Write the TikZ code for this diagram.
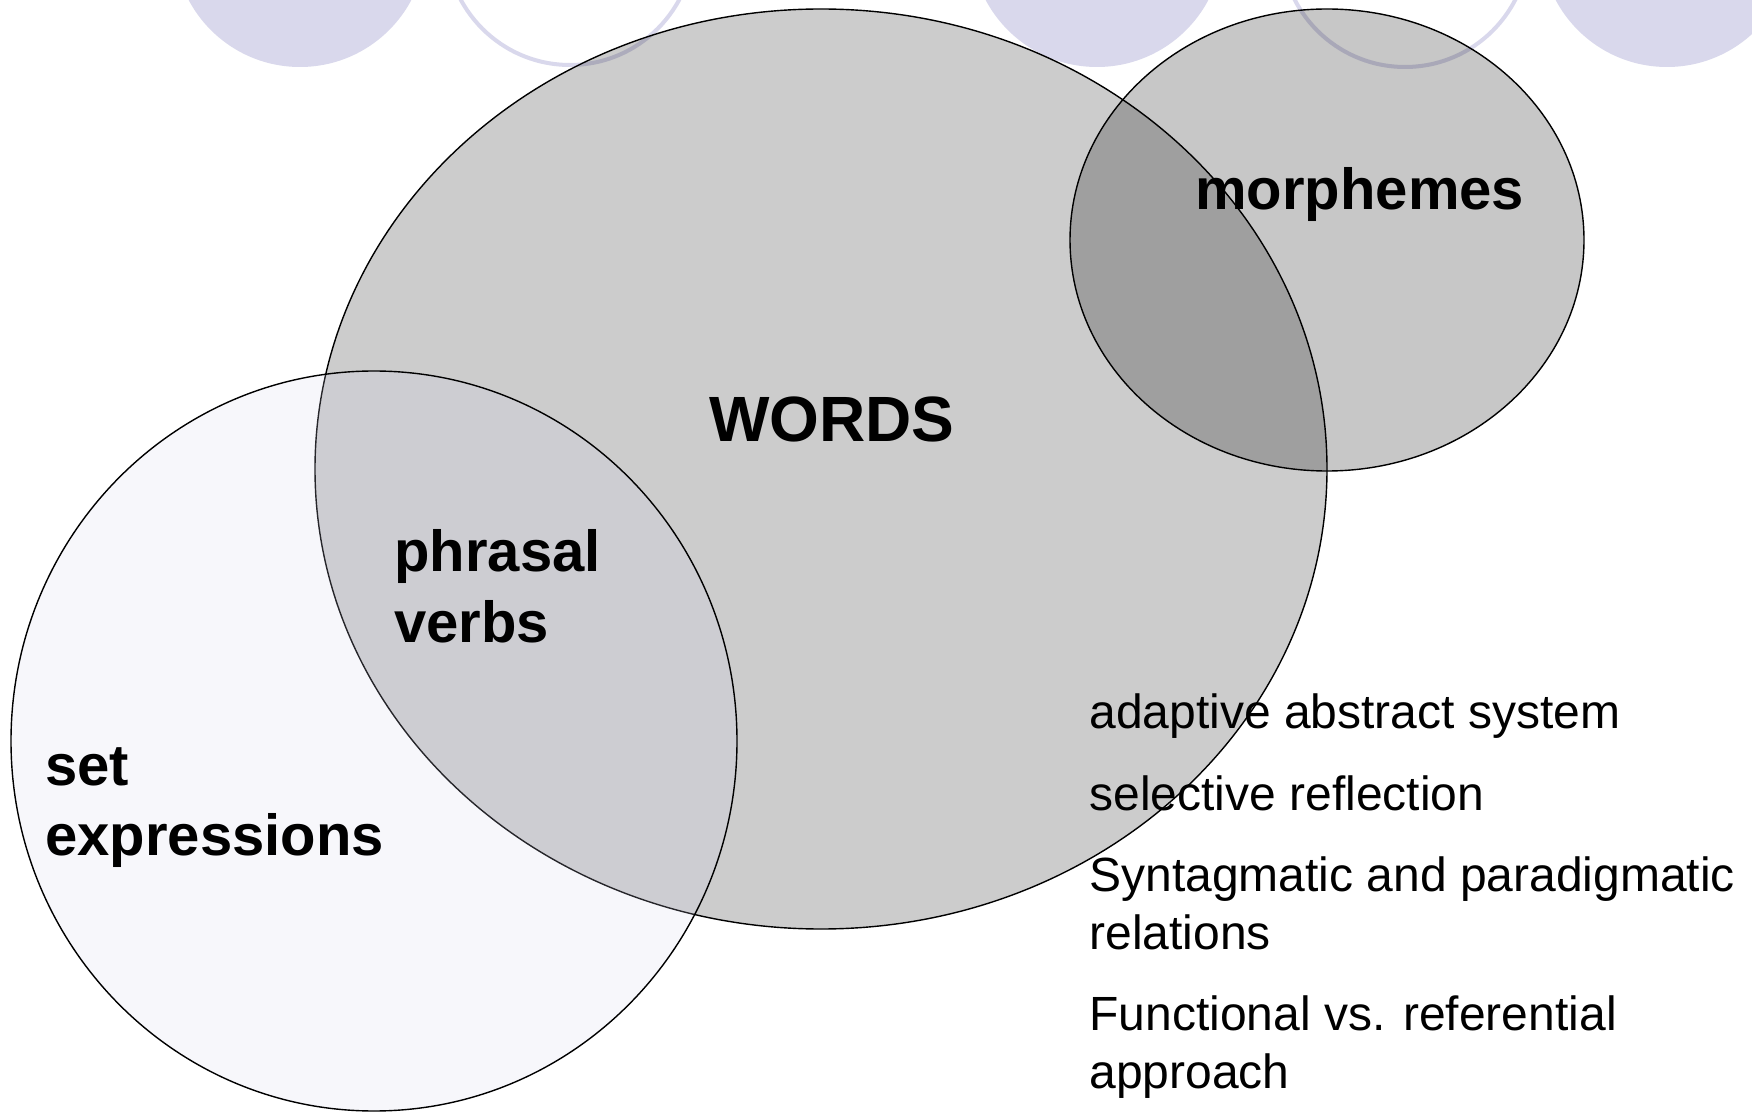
\documentclass[tikz,border=0pt]{standalone}
\usepackage{fontspec}
\setmainfont{Liberation Sans}
\begin{document}
\begin{tikzpicture}[x=0.5pt,y=-0.5pt,
  deco/.style={fill=lav,draw=none},
  decoring/.style={draw=lav,line width=2pt,fill=none},
  venn/.style={draw=black,line width=0.7pt},
  biglabel/.style={font=\fontsize{29}{35}\selectfont\bfseries,anchor=base west,inner sep=0pt},
  bodytext/.style={font=\fontsize{24}{29}\selectfont,anchor=base west,inner sep=0pt}]
\definecolor{lav}{RGB}{217,216,236}
\definecolor{setfill}{RGB}{212,211,238}
\clip (0,0) rectangle (1752,1112);
\fill[white] (0,0) rectangle (1752,1112);
% decorative circles along the top
\path[deco] (300,-59) circle[radius=126];
\path[decoring] (570,-59) circle[radius=124];
\path[deco] (1097,-59) circle[radius=126];
\path[decoring] (1405,-57) circle[radius=124];
\path[deco] (1667,-59) circle[radius=126];
% Venn ellipses
\path[venn,fill=black,fill opacity=0.2] (821,469) ellipse[x radius=506,y radius=460];
\path[venn,fill=black,fill opacity=0.22] (1327,240) ellipse[x radius=257,y radius=231];
\path[venn,fill=setfill,fill opacity=0.18] (374,741) ellipse[x radius=363,y radius=370];
% labels
\node[font=\fontsize{32}{38}\selectfont\bfseries,anchor=base,inner sep=0pt] (words) at (832,442) {WORDS};
\node[biglabel] (morph) at (1195,210) {morphemes};
\node[biglabel] (phr1) at (394,572) {phrasal};
\node[biglabel] (phr2) at (394,642) {verbs};
\node[biglabel] (set1) at (45,785) {set};
\node[biglabel] (set2) at (45,855) {expressions};
\node[bodytext] (b1) at (1089,728) {adaptive abstract system};
\node[bodytext] (b2) at (1089,810) {selective reflection};
\node[bodytext] (b3a) at (1089,891) {Syntagmatic and paradigmatic};
\node[bodytext] (b3b) at (1089,949) {relations};
\node[bodytext] (b4a) at (1089,1030) {Functional vs. referential};
\node[bodytext] (b4b) at (1089,1088) {approach};
\end{tikzpicture}
\end{document}
